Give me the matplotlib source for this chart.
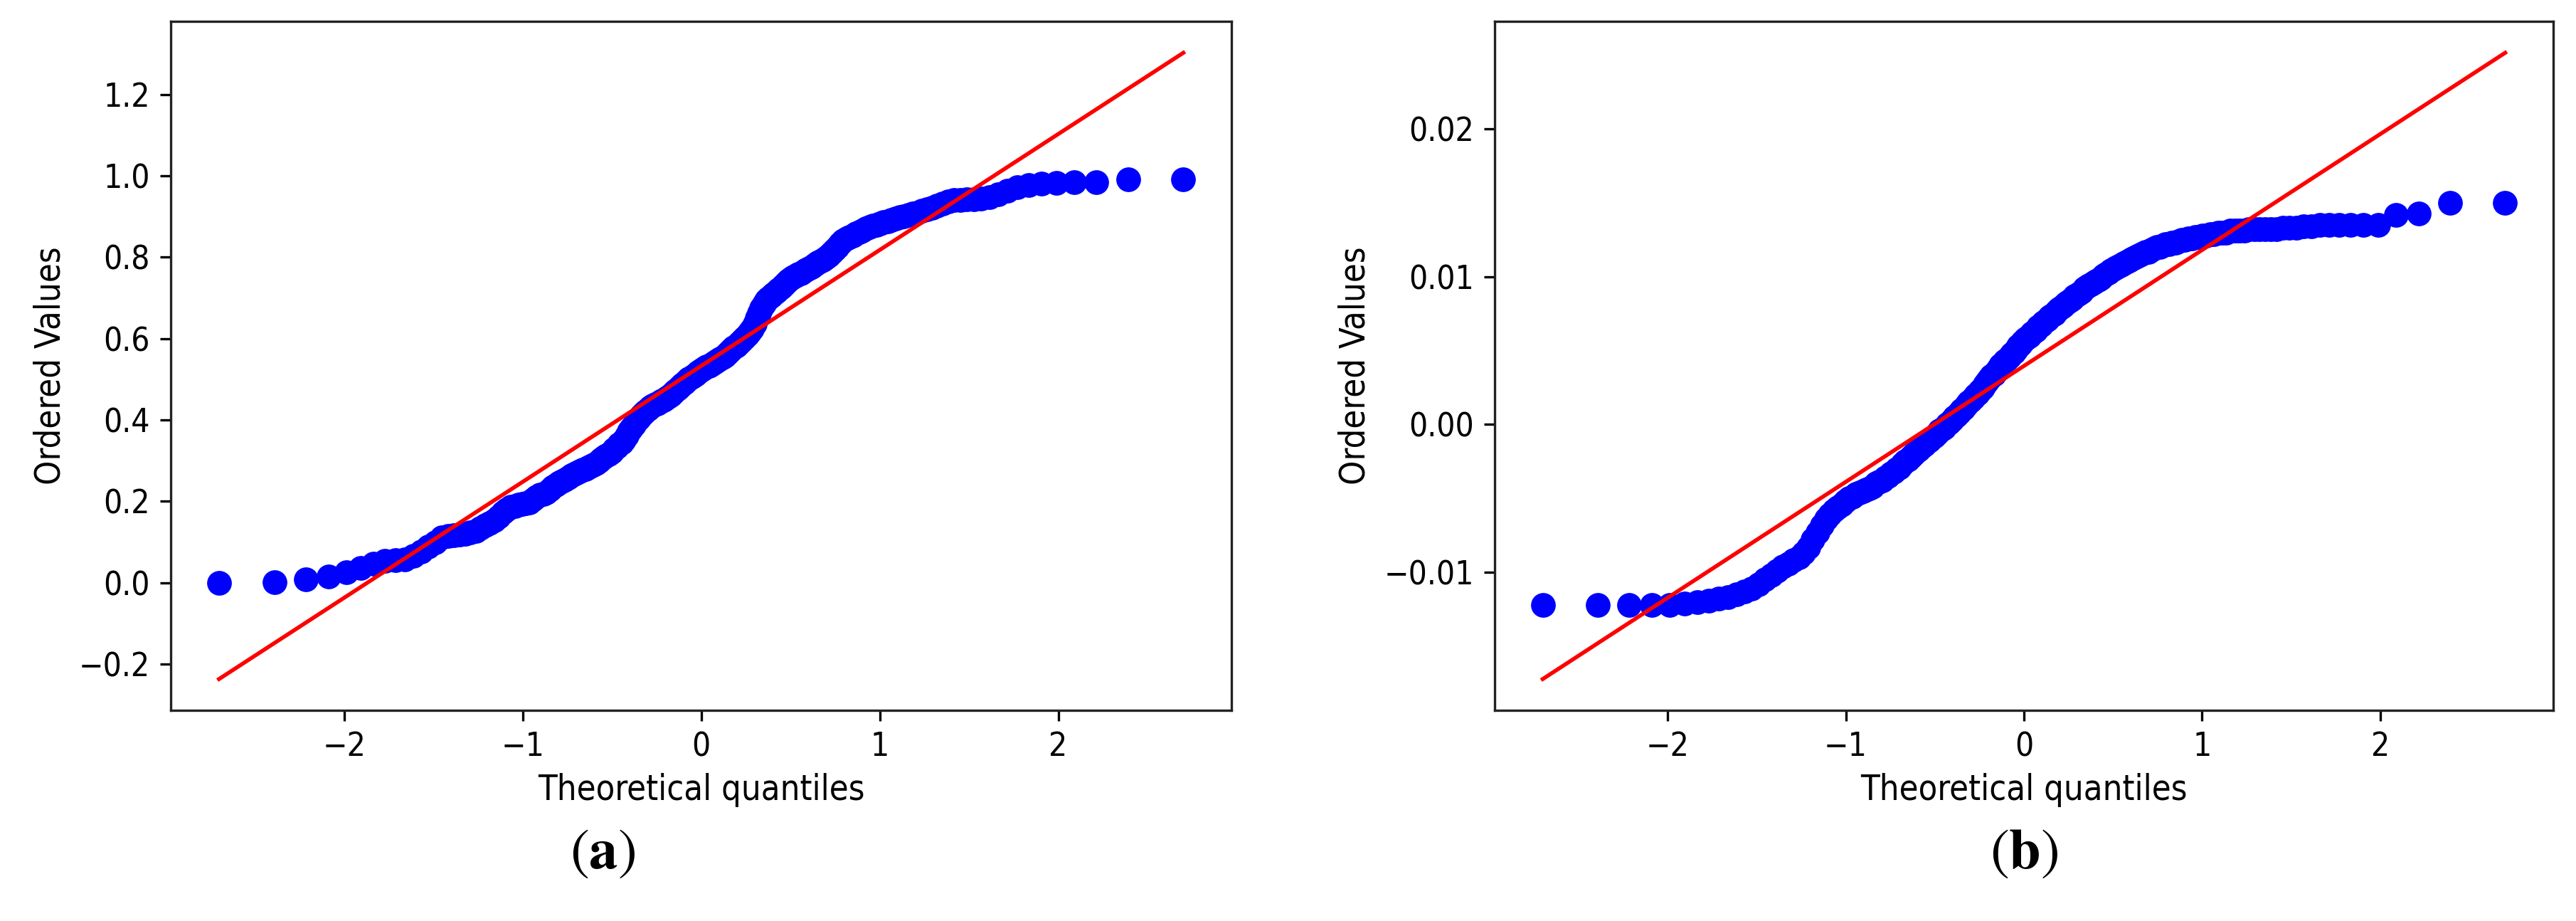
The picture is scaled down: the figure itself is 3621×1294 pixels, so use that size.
import matplotlib
matplotlib.use('Agg')
import matplotlib.pyplot as plt
import numpy as np
from statistics import NormalDist

# ordered values (n = 200 each)
ordered_a = [
    0.000, 0.001, 0.008, 0.016, 0.025, 0.036, 0.046, 0.053, 0.055, 0.057,
    0.066, 0.076, 0.088, 0.100, 0.112, 0.115, 0.117, 0.119, 0.121, 0.123,
    0.128, 0.134, 0.141, 0.147, 0.153, 0.163, 0.173, 0.180, 0.186, 0.189,
    0.192, 0.194, 0.196, 0.198, 0.205, 0.211, 0.216, 0.219, 0.222, 0.228,
    0.235, 0.241, 0.246, 0.250, 0.254, 0.259, 0.263, 0.267, 0.271, 0.274,
    0.277, 0.280, 0.283, 0.286, 0.290, 0.294, 0.299, 0.304, 0.309, 0.313,
    0.317, 0.322, 0.328, 0.334, 0.340, 0.345, 0.352, 0.362, 0.372, 0.380,
    0.388, 0.396, 0.404, 0.410, 0.416, 0.421, 0.426, 0.431, 0.435, 0.438,
    0.441, 0.444, 0.447, 0.450, 0.454, 0.458, 0.462, 0.467, 0.472, 0.478,
    0.483, 0.488, 0.492, 0.497, 0.501, 0.505, 0.509, 0.513, 0.517, 0.521,
    0.524, 0.528, 0.531, 0.534, 0.537, 0.540, 0.543, 0.547, 0.550, 0.554,
    0.558, 0.563, 0.568, 0.573, 0.578, 0.583, 0.588, 0.593, 0.598, 0.604,
    0.610, 0.617, 0.624, 0.636, 0.650, 0.662, 0.675, 0.686, 0.694, 0.700,
    0.705, 0.710, 0.715, 0.720, 0.726, 0.731, 0.737, 0.743, 0.748, 0.752,
    0.755, 0.758, 0.761, 0.765, 0.769, 0.773, 0.777, 0.781, 0.786, 0.790,
    0.794, 0.799, 0.805, 0.812, 0.819, 0.826, 0.834, 0.841, 0.846, 0.850,
    0.854, 0.858, 0.862, 0.866, 0.870, 0.874, 0.877, 0.880, 0.883, 0.886,
    0.889, 0.892, 0.895, 0.898, 0.901, 0.904, 0.907, 0.910, 0.914, 0.918,
    0.922, 0.927, 0.932, 0.937, 0.940, 0.941, 0.942, 0.943, 0.944, 0.948,
    0.954, 0.963, 0.972, 0.978, 0.981, 0.983, 0.984, 0.985, 0.991, 0.992,
]

ordered_b = [
    -0.0122, -0.0122, -0.0122, -0.0122, -0.0122, -0.0121, -0.0120, -0.0119, -0.0118, -0.0117,
    -0.0115, -0.0113, -0.0111, -0.0108, -0.0105, -0.0102, -0.0099, -0.0096, -0.0094, -0.0092,
    -0.0090, -0.0087, -0.0083, -0.0078, -0.0073, -0.0068, -0.0064, -0.0061, -0.0058, -0.0056,
    -0.0054, -0.0052, -0.0050, -0.0049, -0.0047, -0.0046, -0.0045, -0.0044, -0.0043, -0.0042,
    -0.0040, -0.0039, -0.0038, -0.0036, -0.0035, -0.0033, -0.0032, -0.0030, -0.0029, -0.0027,
    -0.0025, -0.0024, -0.0022, -0.0020, -0.0018, -0.0017, -0.0015, -0.0014, -0.0012, -0.0011,
    -0.0009, -0.0008, -0.0006, -0.0004, -0.0003, -0.0002, 0.0000, 0.0001, 0.0003, 0.0005,
    0.0006, 0.0008, 0.0010, 0.0011, 0.0013, 0.0015, 0.0016, 0.0018, 0.0020, 0.0021,
    0.0023, 0.0025, 0.0027, 0.0029, 0.0031, 0.0033, 0.0034, 0.0036, 0.0038, 0.0040,
    0.0041, 0.0043, 0.0044, 0.0046, 0.0048, 0.0049, 0.0051, 0.0053, 0.0054, 0.0056,
    0.0058, 0.0059, 0.0060, 0.0062, 0.0063, 0.0064, 0.0066, 0.0067, 0.0069, 0.0070,
    0.0071, 0.0073, 0.0074, 0.0075, 0.0077, 0.0078, 0.0079, 0.0080, 0.0082, 0.0083,
    0.0084, 0.0085, 0.0087, 0.0088, 0.0089, 0.0090, 0.0092, 0.0093, 0.0094, 0.0095,
    0.0096, 0.0097, 0.0098, 0.0099, 0.0101, 0.0102, 0.0103, 0.0104, 0.0105, 0.0106,
    0.0107, 0.0108, 0.0109, 0.0110, 0.0111, 0.0112, 0.0113, 0.0114, 0.0115, 0.0116,
    0.0117, 0.0117, 0.0118, 0.0119, 0.0120, 0.0120, 0.0121, 0.0122, 0.0122, 0.0123,
    0.0123, 0.0124, 0.0125, 0.0125, 0.0126, 0.0126, 0.0127, 0.0127, 0.0128, 0.0128,
    0.0129, 0.0129, 0.0130, 0.0130, 0.0130, 0.0131, 0.0131, 0.0131, 0.0131, 0.0132,
    0.0132, 0.0132, 0.0132, 0.0132, 0.0132, 0.0133, 0.0133, 0.0133, 0.0134, 0.0134,
    0.0135, 0.0135, 0.0135, 0.0135, 0.0135, 0.0135, 0.0142, 0.0143, 0.0150, 0.0150,
]

# fitted reference lines (slope, intercept)
fit_a = (0.285, 0.533)
fit_b = (0.007846, 0.003965)

panel_labels = ['a', 'b']


def theoretical_quantiles(n):
    # Filliben order statistic medians, as in a normal probability plot
    m = (np.arange(1, n + 1) - 0.3175) / (n + 0.365)
    m[-1] = 0.5 ** (1.0 / n)
    m[0] = 1 - m[-1]
    nd = NormalDist()
    return np.array([nd.inv_cdf(p) for p in m])


plt.rcParams['mathtext.fontset'] = 'stix'
plt.rcParams['font.family'] = ['DejaVu Sans']
plt.rcParams['font.stretch'] = 'condensed'

fig = plt.figure(figsize=(36.21, 12.94), dpi=100)
ax1 = fig.add_axes([0.0663, 0.2287, 0.4118, 0.748])
ax2 = fig.add_axes([0.5802, 0.2287, 0.4110, 0.748])

for ax, vals, fit in [(ax1, ordered_a, fit_a), (ax2, ordered_b, fit_b)]:
    osr = np.array(vals)
    osm = theoretical_quantiles(len(osr))
    ax.plot(osm, osr, 'bo', markersize=24)
    ax.plot(osm, fit[0] * osm + fit[1], 'r-', lw=4)
    ax.set_xlabel('Theoretical quantiles', fontsize=35, labelpad=10)
    ax.set_ylabel('Ordered Values', fontsize=35, labelpad=12)
    ax.tick_params(labelsize=33, length=11, width=2.4, pad=10)
    for sp in ax.spines.values():
        sp.set_linewidth(2.4)
        sp.set_color('#222222')

fig.text(0.234, 0.074, r'$(\mathbf{%s})$' % panel_labels[0], fontsize=58,
         ha='center', va='center')
fig.text(0.7857, 0.074, r'$(\mathbf{%s})$' % panel_labels[1], fontsize=58,
         ha='center', va='center')

fig.savefig('out.png', dpi=100, facecolor='white')
